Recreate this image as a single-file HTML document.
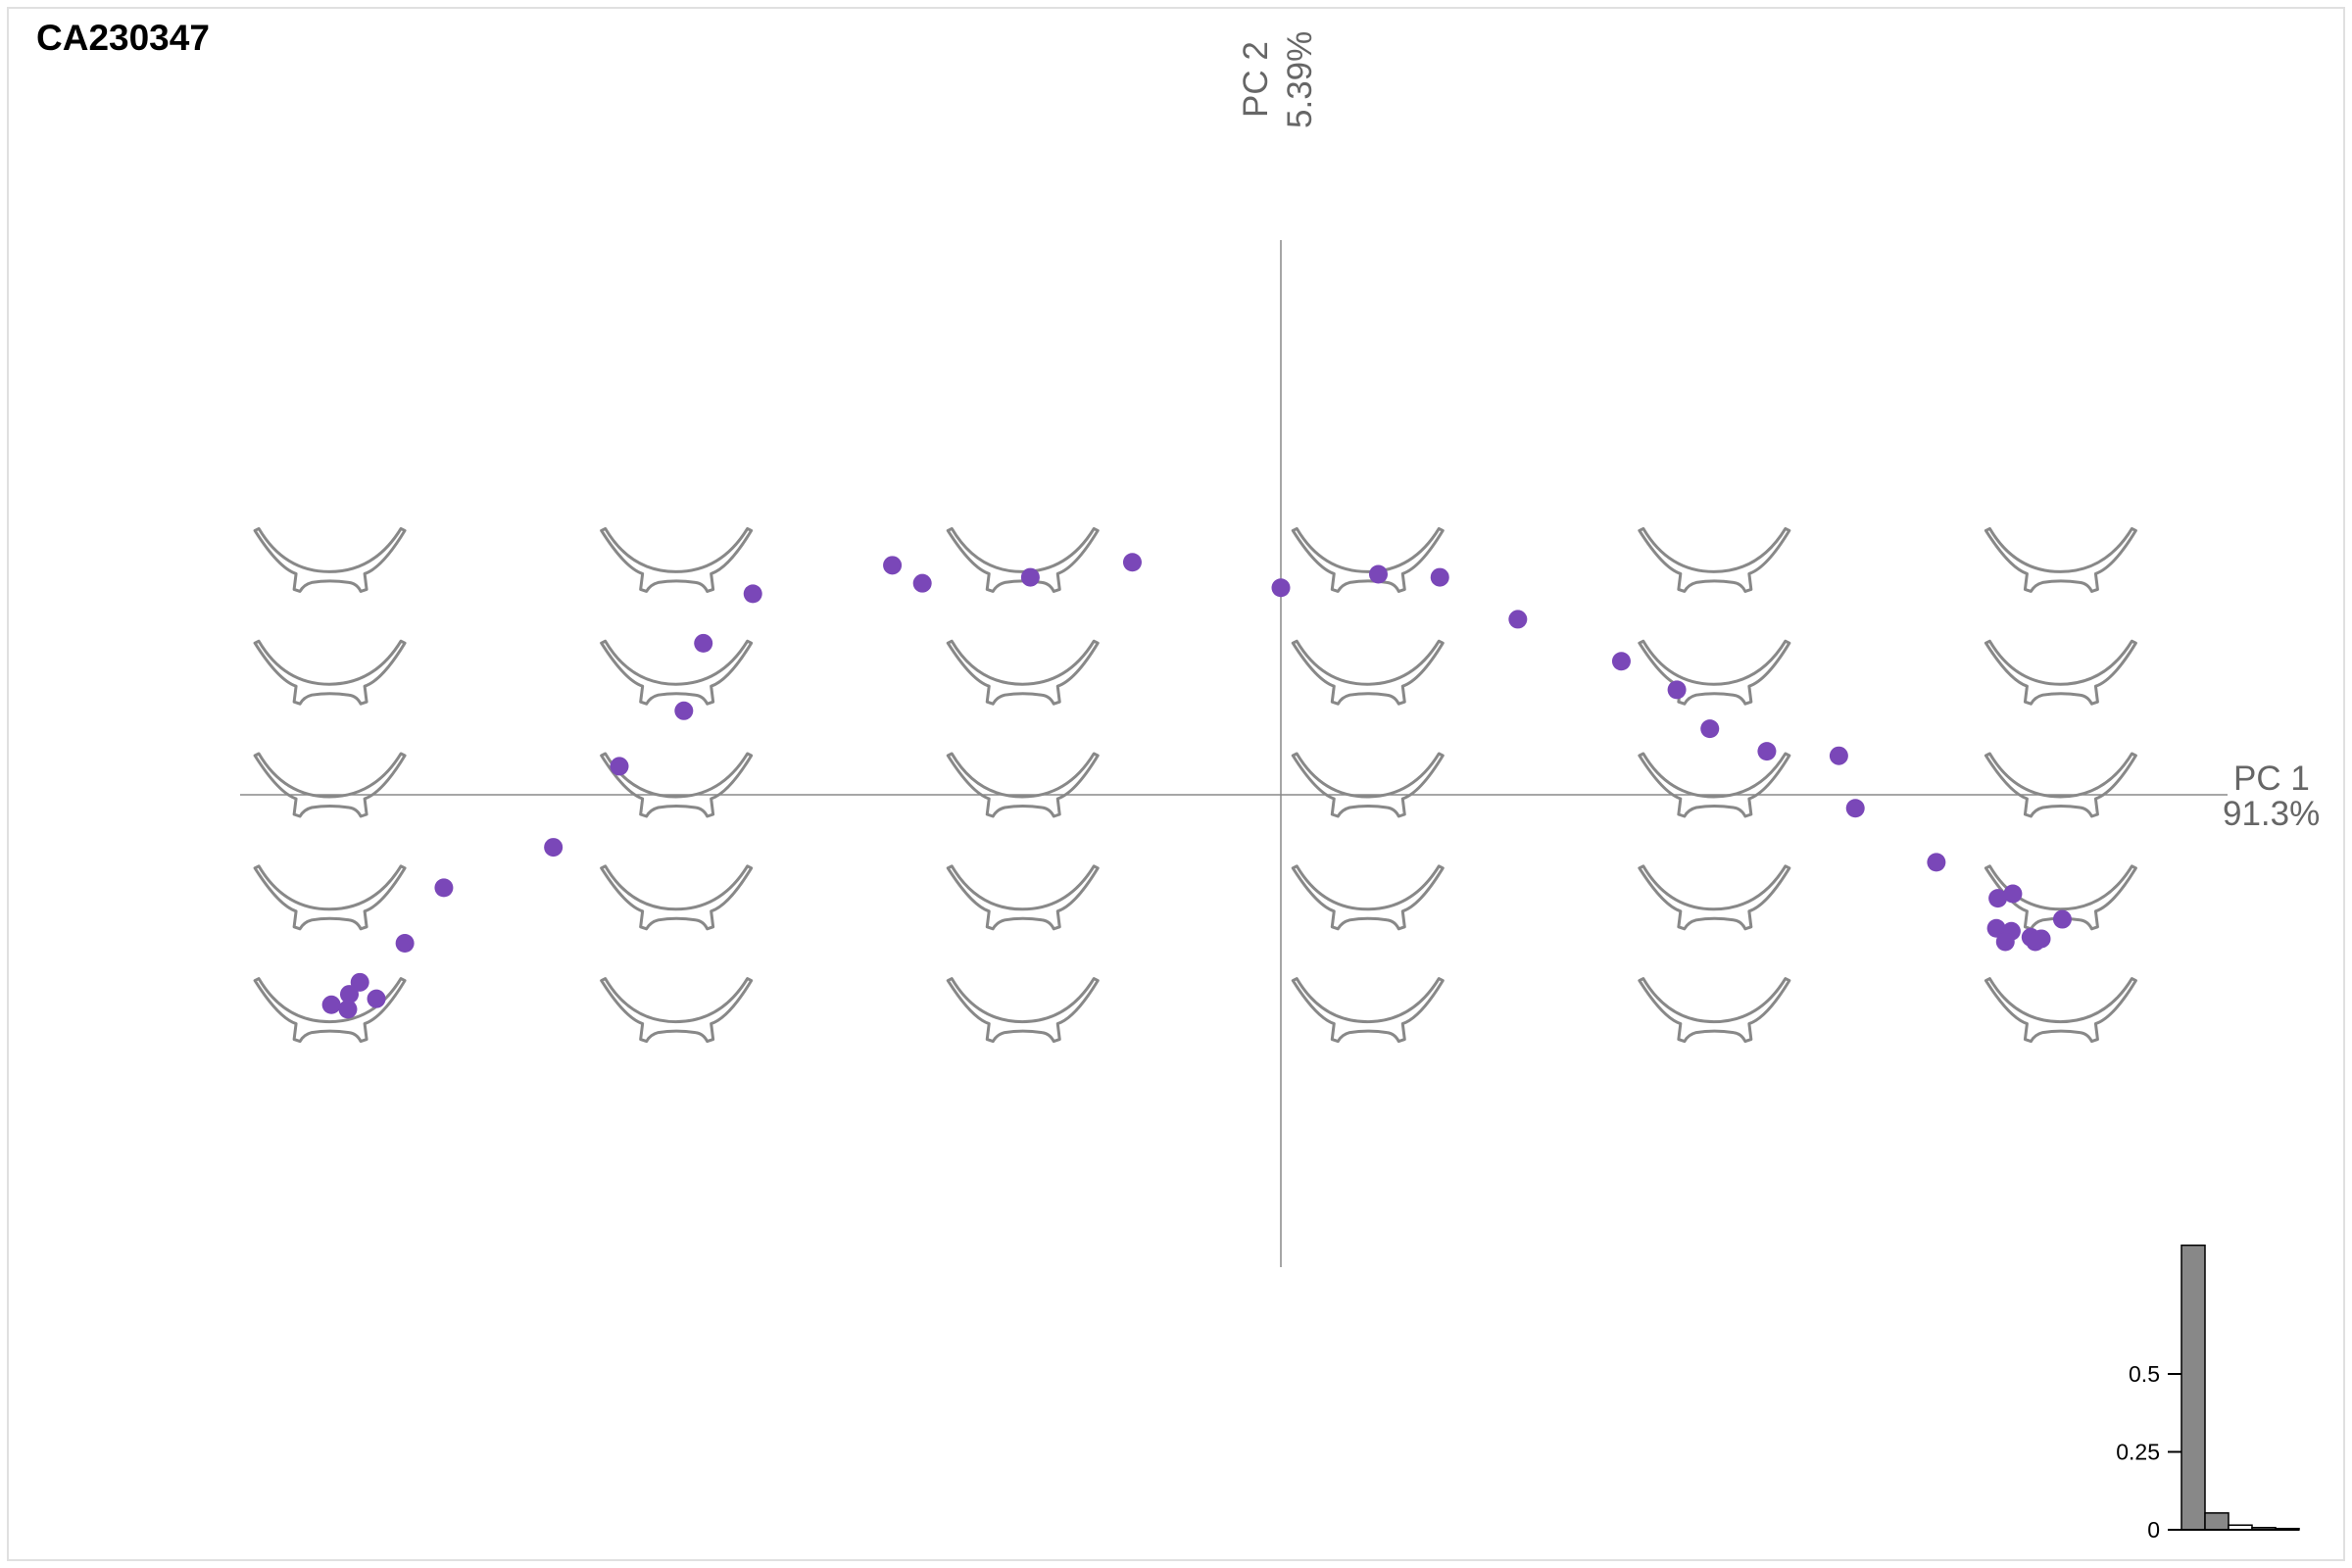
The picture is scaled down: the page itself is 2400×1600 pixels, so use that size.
<!DOCTYPE html>
<html><head><meta charset="utf-8"><style>
html,body{margin:0;padding:0;background:#fff;}
svg{display:block;font-family:"Liberation Sans",Arial,sans-serif;}
</style></head><body>
<svg id="chart" width="2400" height="1600" viewBox="0 0 2400 1600" xmlns="http://www.w3.org/2000/svg">
<rect x="8" y="8" width="2384" height="1584" fill="#fff" stroke="#e0e0e0" stroke-width="2"/>
<text x="37" y="51" font-size="37" font-weight="bold" fill="#000">CA230347</text>
<g id="shapes"></g>
<line x1="245" y1="811" x2="2273" y2="811" stroke="#888" stroke-width="1.5"/>
<line x1="1307" y1="245" x2="1307" y2="1293" stroke="#888" stroke-width="1.5"/>
<text x="2279" y="806" font-size="35" fill="#666">PC 1</text>
<text x="2268" y="842" font-size="35" fill="#666">91.3%</text>
<text transform="translate(1293,120) rotate(-90)" font-size="35" fill="#666">PC 2</text>
<text transform="translate(1338,131) rotate(-90)" font-size="35" fill="#666">5.39%</text>
<g id="points"></g>
<g id="scree"></g>
</svg>
<script>
const ns="http://www.w3.org/2000/svg";
// PCA scores (PC1, PC2) in arbitrary units
const pc1Scores=[-2.59,-2.39,-1.67,-0.99,-3.52,-3.85,-3.98,-4.41,-4.85,-5.58,-5.84,-6.14,-6.21,-6.33,-6.22,-6.03,0.00,0.65,1.06,1.58,2.27,2.64,2.86,3.24,3.72,3.83,4.37,4.78,4.88,5.21,4.77,4.87,4.83,5.00,5.07,5.03];
const pc2Scores=[1.53,1.41,1.45,1.55,1.34,1.01,0.56,0.19,-0.35,-0.62,-0.99,-1.25,-1.33,-1.40,-1.43,-1.36,1.38,1.47,1.45,1.17,0.89,0.70,0.44,0.29,0.26,-0.09,-0.45,-0.69,-0.66,-0.83,-0.89,-0.91,-0.98,-0.95,-0.96,-0.98];
// scree: proportion of variance
const screeLabels=["PC1","PC2","PC3","PC4","PC5"];
const screeValues=[0.913,0.0539,0.015,0.007,0.004];
const screeTicks=[0,0.25,0.5];
const screeTickLabels=["0","0.25","0.5"];

const ox=1307, oy=811, unit=153.06;
const xs=v=>ox+v*unit, ys=v=>oy-v*unit;

// shape grid
const shapePath="M0,2 L4,0 Q30,44 76,44 Q122,44 149,0 L153,2 Q130,40 112,46 L114,62 L108,64 Q104,56 96,55 Q76,52 58,55 Q50,57 46,64 L40,62 L42,46 Q24,40 0,2 Z";
const colCenters=[-6.34,-4.03,-1.72,0.58,2.89,5.2];
const rowCenters=[1.5,0.75,0,-0.75,-1.5];
const sg=document.getElementById('shapes');
colCenters.forEach(c=>rowCenters.forEach(r=>{
  const p=document.createElementNS(ns,'path');
  
  
  p.setAttribute('d',shapePath);
  p.setAttribute('fill','none');p.setAttribute('stroke','#888');p.setAttribute('stroke-width','3');
  p.setAttribute('stroke-linejoin','round');
  p.setAttribute('transform',`translate(${xs(c)-76.5},${ys(r)-42})`);
  sg.appendChild(p);
}));

const pg=document.getElementById('points');
pc1Scores.forEach((v,i)=>{
  const c=document.createElementNS(ns,'circle');
  
  
  c.setAttribute('cx',xs(v));c.setAttribute('cy',ys(pc2Scores[i]));c.setAttribute('r',9.5);
  c.setAttribute('fill','#7a47b8');
  pg.appendChild(c);
});

// scree plot
const sc=document.getElementById('scree');
const bx0=2226, bw=24, by0=1561, bscale=318;
const sy=v=>by0-v*bscale;
screeValues.forEach((v,i)=>{
  const r=document.createElementNS(ns,'rect');
  
  
  r.setAttribute('x',bx0+i*bw);r.setAttribute('y',sy(v));r.setAttribute('width',bw);r.setAttribute('height',Math.max(v*bscale,0.5));
  r.setAttribute('fill',i===2?'#fff':'#888');r.setAttribute('stroke','#000');r.setAttribute('stroke-width','1.5');
  sc.appendChild(r);
});
const base=document.createElementNS(ns,'line');


base.setAttribute('x1',2212);base.setAttribute('x2',bx0+screeValues.length*bw);base.setAttribute('y1',by0);base.setAttribute('y2',by0);
base.setAttribute('stroke','#000');base.setAttribute('stroke-width','2');
sc.appendChild(base);
screeTicks.forEach((t,i)=>{
  const l=document.createElementNS(ns,'line');
  
  
  l.setAttribute('x1',2212);l.setAttribute('x2',2226);l.setAttribute('y1',sy(t));l.setAttribute('y2',sy(t));
  l.setAttribute('stroke','#000');l.setAttribute('stroke-width','2');
  sc.appendChild(l);
  const tx=document.createElementNS(ns,'text');
  
  
  tx.setAttribute('x',2204);tx.setAttribute('y',sy(t)+8);tx.setAttribute('text-anchor','end');
  tx.setAttribute('font-size','23');tx.setAttribute('fill','#000');
  tx.textContent=screeTickLabels[i];
  sc.appendChild(tx);
});
</script>
</body></html>
